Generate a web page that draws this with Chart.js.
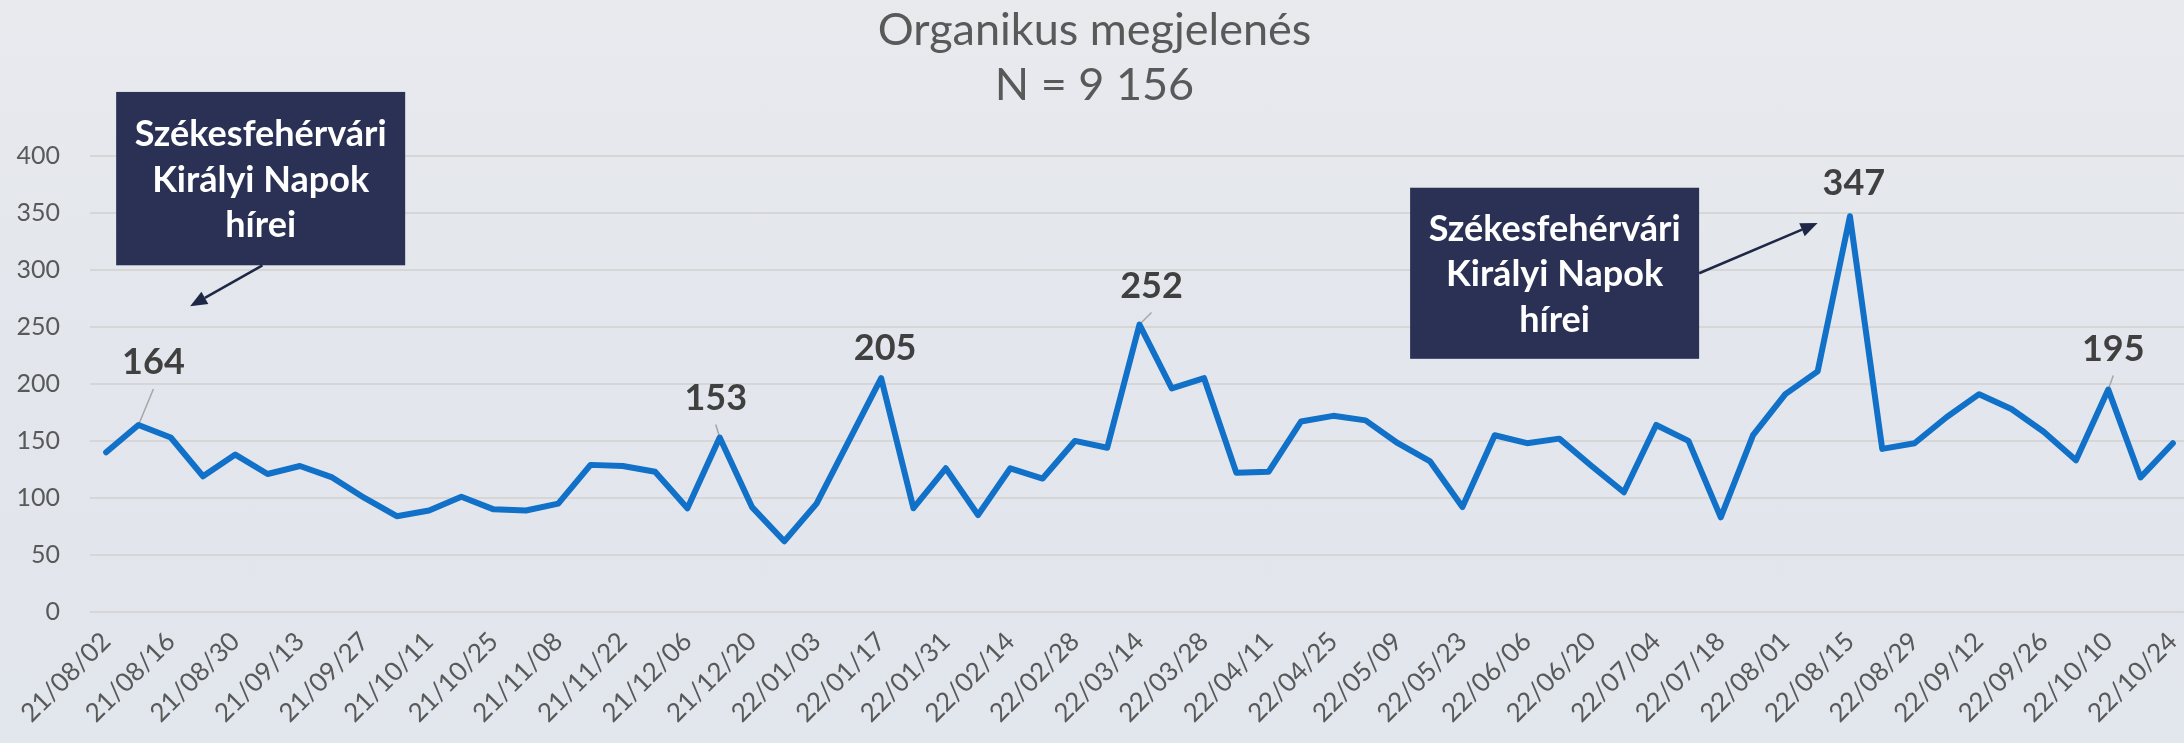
<!DOCTYPE html>
<html>
<head>
<meta charset="utf-8">
<title>Organikus megjelenés</title>
<script src="https://cdn.jsdelivr.net/npm/chart.js@4.4.0/dist/chart.umd.min.js"></script>
<style>
  html, body {
    margin: 0;
    padding: 0;
    width: 2184px;
    height: 743px;
    overflow: hidden;
    background: linear-gradient(180deg, #e8eaee 0%, #e3e6ec 45%, #e2e6ed 100%);
  }
  #wrap { width: 2216px; height: 743px; position: relative; }
</style>
</head>
<body>
<div id="wrap"><canvas id="organicChart"></canvas></div>
<script>
// weekly buckets (yy/mm/dd), every second one is shown on the axis
var weeks = [
  '21/08/02', '21/08/09', '21/08/16', '21/08/23', '21/08/30', '21/09/06', '21/09/13', '21/09/20',
  '21/09/27', '21/10/04', '21/10/11', '21/10/18', '21/10/25', '21/11/01', '21/11/08', '21/11/15',
  '21/11/22', '21/11/29', '21/12/06', '21/12/13', '21/12/20', '21/12/27', '22/01/03', '22/01/10',
  '22/01/17', '22/01/24', '22/01/31', '22/02/07', '22/02/14', '22/02/21', '22/02/28', '22/03/07',
  '22/03/14', '22/03/21', '22/03/28', '22/04/04', '22/04/11', '22/04/18', '22/04/25', '22/05/02',
  '22/05/09', '22/05/16', '22/05/23', '22/05/30', '22/06/06', '22/06/13', '22/06/20', '22/06/27',
  '22/07/04', '22/07/11', '22/07/18', '22/07/25', '22/08/01', '22/08/08', '22/08/15', '22/08/22',
  '22/08/29', '22/09/05', '22/09/12', '22/09/19', '22/09/26', '22/10/03', '22/10/10', '22/10/17',
  '22/10/24'
];

// organic appearances per week
var appearances = [
  140, 164, 153, 119, 138, 121, 128, 118, 100, 84, 89, 101, 90, 89, 95,
  129, 128, 123, 91, 153, 92, 62, 95, 150, 205, 91, 126, 85, 126, 117, 150,
  144, 252, 196, 205, 122, 123, 167, 172, 168, 148, 132, 92, 155, 148, 152, 128, 105,
  164, 150, 83, 155, 191, 211, 347, 143, 148, 171, 191, 178, 158, 133, 195, 118, 148
];

// weeks that get a value label
var highlighted = [1, 19, 24, 32, 54, 62];

var chartTitle = ['Organikus megjelenés', 'N = 9 156'];
var calloutText = ['Székesfehérvári', 'Királyi Napok', 'hírei'];

var yMin = 0;
var yMax = 400;
var yStep = 50;

// label placement relative to the point (pixels)
var labelPos = {
  1:  { dx: 15, dy: -64, leader: true },
  19: { dx: -4, dy: -41, leader: true },
  24: { dx: 4,  dy: -31, leader: false },
  32: { dx: 12, dy: -40, leader: true },
  54: { dx: 4,  dy: -34, leader: false },
  62: { dx: 5,  dy: -42, leader: true }
};

// callout boxes, placed in data coordinates (category index / value)
var callouts = [
  { x0: 0.31, x1: 9.26, top: 456, bottom: 304, from: [4.84, 304], to: [2.6, 268] },
  { x0: 40.38, x1: 49.33, top: 372, bottom: 222, from: [49.33, 297], to: [53.0, 341] }
];

var annotationPlugin = {
  id: 'annotations',
  beforeDatasetsDraw: function(chart) {
    // thin leader lines under the series line
    var ctx = chart.ctx;
    var meta = chart.getDatasetMeta(0);
    ctx.save();
    ctx.strokeStyle = '#a6a6a6';
    ctx.lineWidth = 1.5;
    highlighted.forEach(function(i) {
      var p = labelPos[i];
      if (!p.leader) return;
      var pt = meta.data[i];
      ctx.beginPath();
      ctx.moveTo(pt.x, pt.y);
      ctx.lineTo(pt.x + p.dx, pt.y + p.dy + 28);
      ctx.stroke();
    });
    ctx.restore();
  },
  afterDatasetsDraw: function(chart) {
    var ctx = chart.ctx;
    var xs = chart.scales.x, ys = chart.scales.y;
    var meta = chart.getDatasetMeta(0);

    // value labels
    ctx.save();
    ctx.font = 'bold 36px Lato';
    ctx.fillStyle = '#404040';
    ctx.textAlign = 'center';
    ctx.textBaseline = 'alphabetic';
    highlighted.forEach(function(i) {
      var pt = meta.data[i];
      var p = labelPos[i];
      ctx.fillText(String(appearances[i]), pt.x + p.dx, pt.y + p.dy + 13);
    });
    ctx.restore();

    // callouts
    callouts.forEach(function(c) {
      var left = xs.getPixelForValue(c.x0), right = xs.getPixelForValue(c.x1);
      var top = ys.getPixelForValue(c.top), bottom = ys.getPixelForValue(c.bottom);
      ctx.save();
      ctx.fillStyle = '#2a3155';
      ctx.fillRect(left, top, right - left, bottom - top);

      ctx.fillStyle = '#ffffff';
      ctx.font = 'bold 36px Lato';
      ctx.textAlign = 'center';
      ctx.textBaseline = 'alphabetic';
      var cx = (left + right) / 2, cy = (top + bottom) / 2;
      calloutText.forEach(function(line, k) {
        ctx.fillText(line, cx, cy + (k - 1) * 45.5 + 13);
      });

      // arrow
      var x1 = xs.getPixelForValue(c.from[0]), y1 = ys.getPixelForValue(c.from[1]);
      var x2 = xs.getPixelForValue(c.to[0]), y2 = ys.getPixelForValue(c.to[1]);
      var ang = Math.atan2(y2 - y1, x2 - x1);
      var headLen = 17, headW = 7;
      var bx = x2 - headLen * Math.cos(ang), by = y2 - headLen * Math.sin(ang);
      ctx.strokeStyle = '#1f2746';
      ctx.fillStyle = '#1f2746';
      ctx.lineWidth = 2.5;
      ctx.beginPath();
      ctx.moveTo(x1, y1);
      ctx.lineTo(bx, by);
      ctx.stroke();
      ctx.beginPath();
      ctx.moveTo(x2, y2);
      ctx.lineTo(bx + headW * Math.sin(ang), by - headW * Math.cos(ang));
      ctx.lineTo(bx - headW * Math.sin(ang), by + headW * Math.cos(ang));
      ctx.closePath();
      ctx.fill();
      ctx.restore();
    });
  }
};

Chart.defaults.font.family = 'Lato';
Chart.defaults.color = '#595959';

var ctx = document.getElementById('organicChart').getContext('2d');
var organicChart = new Chart(ctx, {
  type: 'line',
  data: {
    labels: weeks,
    datasets: [{
      label: 'Organikus megjelenés',
      data: appearances,
      borderColor: '#1170c8',
      borderWidth: 6,
      borderJoinStyle: 'round',
      borderCapStyle: 'round',
      pointRadius: 0,
      tension: 0,
      fill: false
    }]
  },
  options: {
    responsive: true,
    maintainAspectRatio: false,
    animation: false,
    layout: { padding: { left: 0, right: 27, top: 0, bottom: 0 } },
    plugins: {
      legend: { display: false },
      tooltip: { enabled: false },
      title: {
        display: true,
        text: chartTitle,
        color: '#595959',
        font: { family: 'Lato', size: 45, weight: 'normal', lineHeight: 1.22 },
        padding: { top: 3, bottom: 43 }
      }
    },
    scales: {
      x: {
        offset: true,
        grid: { display: false },
        border: { display: false },
        ticks: {
          autoSkip: false,
          minRotation: 45,
          maxRotation: 45,
          padding: 6,
          font: { size: 26 },
          color: '#595959',
          callback: function(val, idx) {
            return idx % 2 === 0 ? this.getLabelForValue(val) : '';
          }
        },
        afterFit: function(scale) { scale.height = 131; }
      },
      y: {
        min: yMin,
        max: yMax,
        ticks: { stepSize: yStep, padding: 30, font: { size: 25 }, color: '#595959' },
        grid: { color: '#d6d6d6', lineWidth: 2, drawTicks: false },
        border: { display: false },
        afterFit: function(scale) { scale.width = 90; }
      }
    }
  },
  plugins: [annotationPlugin]
});
</script>
</body>
</html>
